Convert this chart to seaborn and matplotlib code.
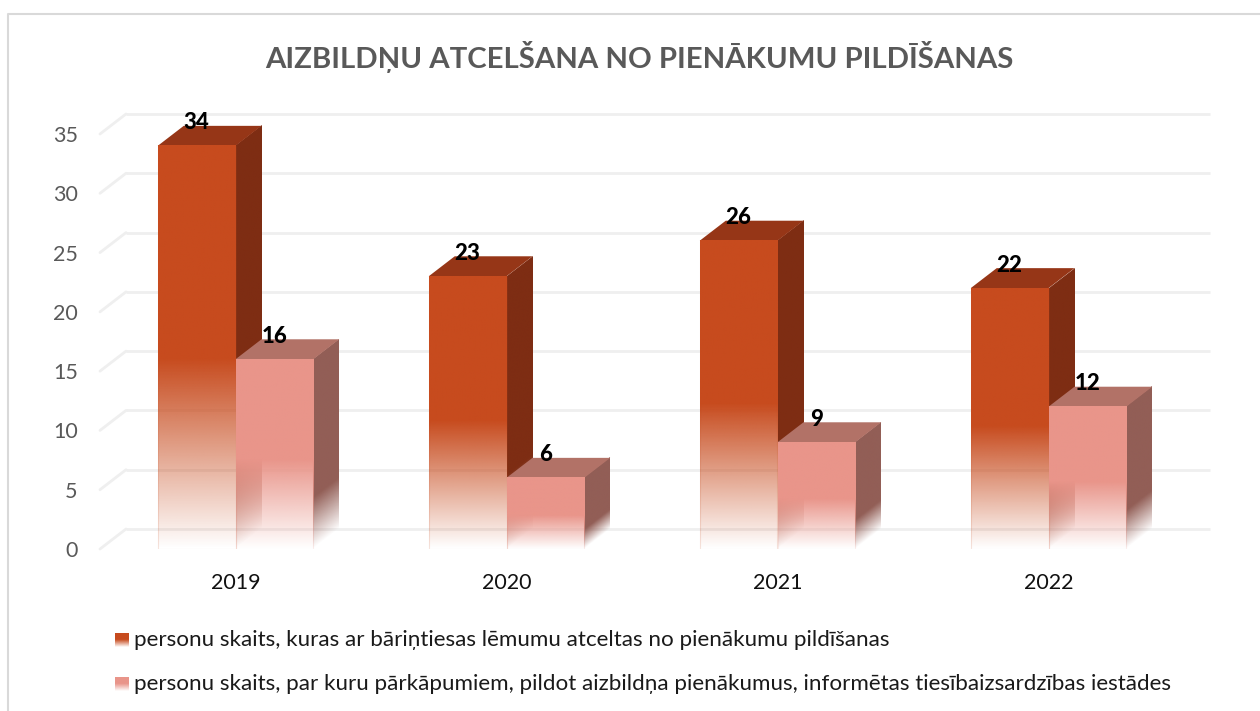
import numpy as np
import pandas as pd
import matplotlib
matplotlib.use("Agg")
import matplotlib.pyplot as plt
from matplotlib.colors import to_rgb, to_rgba
from matplotlib.patches import Polygon
from matplotlib.transforms import Affine2D, ScaledTranslation, IdentityTransform
import seaborn as sns

years = ["2019", "2020", "2021", "2022"]
removed = [34, 23, 26, 22]
reported = [16, 6, 9, 12]
label_removed = "personu skaits, kuras ar bāriņtiesas lēmumu atceltas no pienākumu pildīšanas"
label_reported = "personu skaits, par kuru pārkāpumiem, pildot aizbildņa pienākumus, informētas tiesībaizsardzības iestādes"
title = "AIZBILDŅU ATCELŠANA NO PIENĀKUMU PILDĪŠANAS"
y_ticks = [0, 5, 10, 15, 20, 25, 30, 35]

# front, top and side colours of the two series
front_cols = ["#C74B1E", "#E9958A"]
top_cols = ["#963617", "#B27267"]
side_cols = ["#7E2D13", "#925E56"]

W, H = 1260, 711
DX, DY = 26, 20  # depth of the fake 3d, in pixels

sns.set_theme(style="white")
plt.rcParams["font.family"] = ["Lato", "DejaVu Sans"]

fig = plt.figure(figsize=(W / 100, H / 100), dpi=100)
fig.patch.set_facecolor("white")
ax = fig.add_axes([100 / W, (H - 549) / H, 1084 / W, 415 / H])

df = pd.DataFrame({
    "year": years * 2,
    "value": removed + reported,
    "series": [label_removed] * 4 + [label_reported] * 4,
})
sns.barplot(data=df, x="year", y="value", hue="series", width=0.574, legend=False, ax=ax,
            palette=front_cols, saturation=1, zorder=3)
ax.set_xlim(-0.5, 3.5)
ax.set_ylim(0, 35)
ax.set_xlabel("")
ax.set_ylabel("")
ax.set_yticks(y_ticks)
ax.tick_params(axis="y", length=0, pad=16, labelsize=15.5, labelcolor="#595959")
ax.tick_params(axis="x", length=0, pad=17.5, labelsize=15.5, labelcolor="#111111")
ax.patch.set_alpha(0)
sns.despine(ax=ax, left=True, bottom=True)

# gridlines on the back wall and the slanted bits on the side wall
back = ax.transData + ScaledTranslation(DX / 100, DY / 100, fig.dpi_scale_trans)
for t in y_ticks:
    ax.plot([-0.5, 3.5], [t, t], transform=back, color="#EFEFEF", lw=2, clip_on=False, zorder=1,
            solid_capstyle="butt")
    x0, y0 = ax.transData.transform((-0.5, t))
    ax.plot([x0, x0 + DX], [y0, y0 + DY], transform=IdentityTransform(), color="#EFEFEF", lw=2,
            clip_on=False, zorder=1)


def fade_image(color, solid):
    # vertical fade, transparent at the bottom, solid from the given share of the height up
    v = np.linspace(0, 1, 256)
    img = np.ones((256, 1, 4))
    img[:, :, :3] = to_rgb(color)
    img[:, 0, 3] = np.clip(v / solid, 0, 1)
    return img


def put_image(img, a, b, c, zorder):
    # maps the unit square onto the parallelogram with corners a, b (right) and c (up), in pixels
    im = ax.imshow(img, origin="lower", extent=(0, 1, 0, 1), aspect="auto", interpolation="bilinear",
                   zorder=zorder)
    m = Affine2D.from_values(b[0] - a[0], b[1] - a[1], c[0] - a[0], c[1] - a[1], a[0], a[1])
    im.set_transform(m)
    im.set_clip_on(False)
    return im


ax.set_xlim(-0.5, 3.5)
ax.set_ylim(0, 35)
fig.canvas.draw()
for s, cont in enumerate(ax.containers):
    for bar in cont:
        (x0, y0), (x1, y1) = ax.transData.transform(
            [(bar.get_x(), 0), (bar.get_x() + bar.get_width(), bar.get_height())])
        z = 3 + s * 4
        # side face
        put_image(fade_image(side_cols[s], 0.27), (x1, y0), (x1 + DX, y0 + DY), (x1, y1), z)
        # top face
        ax.add_patch(Polygon([(x0, y1), (x1, y1), (x1 + DX, y1 + DY), (x0 + DX, y1 + DY)],
                             transform=IdentityTransform(), facecolor=top_cols[s], edgecolor="none",
                             clip_on=False, zorder=z + 1))
        # front face
        put_image(fade_image(front_cols[s], 0.47), (x0, y0), (x1, y0), (x0, y1), z + 2)
        # the bar itself only keeps a faint outline on top of the fade
        bar.set_facecolor("none")
        bar.set_edgecolor(to_rgba(front_cols[s], 0.15))
        bar.set_linewidth(0.8)
        bar.set_zorder(z + 3)
    ax.bar_label(cont, padding=9, fontsize=16, fontweight=900, color="black")
ax.set_xlim(-0.5, 3.5)
ax.set_ylim(0, 35)
for t in ax.texts:
    t.set_zorder(12)

# outer chart border, open on the right and bottom
fig.add_artist(plt.Line2D([8 / W, 8 / W, 1], [0, (H - 14) / H, (H - 14) / H], color="#D9D9D9", lw=1.5))

fig.text(639 / W, 1 - 57 / H, title, ha="center", va="center", fontsize=21.2, fontweight="bold",
         color="#595959")

# legend
for name, col, yc in [(label_removed, front_cols[0], 640), (label_reported, front_cols[1], 684)]:
    sw = fig.add_axes([115 / W, 1 - (yc + 7) / H, 14 / W, 14 / H])
    sw.imshow(fade_image(col, 0.5), origin="lower", aspect="auto", extent=(0, 1, 0, 1))
    sw.axis("off")
    fig.text(134 / W, 1 - yc / H, name, ha="left", va="center", fontsize=16.1, color="#1a1a1a")

fig.savefig("out.png", dpi=100)
